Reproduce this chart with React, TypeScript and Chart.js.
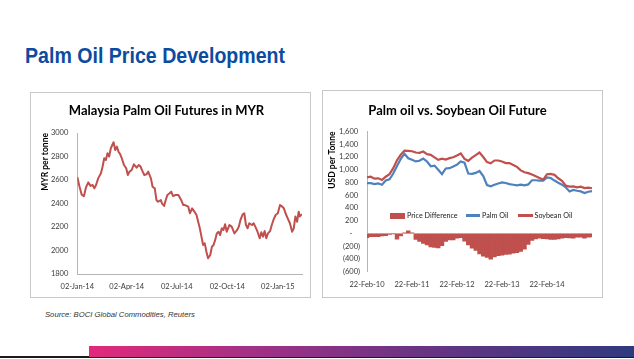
import React, { useEffect, useRef } from "react";
import { Chart, registerables } from "chart.js";

Chart.register(...registerables);

// ---------------- Left chart: Malaysia Palm Oil Futures in MYR ----------------
const myrDates: string[] = [
  "2014-01-02", "2014-01-06", "2014-01-10", "2014-01-14", "2014-01-18", "2014-01-22", "2014-01-26", "2014-01-30",
  "2014-02-02", "2014-02-05", "2014-02-09", "2014-02-14", "2014-02-17", "2014-02-20", "2014-02-23", "2014-02-26",
  "2014-03-01", "2014-03-04", "2014-03-09", "2014-03-12", "2014-03-15", "2014-03-18", "2014-03-21", "2014-03-24",
  "2014-03-28", "2014-04-01", "2014-04-04", "2014-04-07", "2014-04-11", "2014-04-15", "2014-04-20", "2014-04-24",
  "2014-04-27", "2014-05-01", "2014-05-04", "2014-05-08", "2014-05-11", "2014-05-16", "2014-05-19", "2014-05-23",
  "2014-05-26", "2014-05-29", "2014-06-03", "2014-06-05", "2014-06-09", "2014-06-12", "2014-06-15", "2014-06-19",
  "2014-06-22", "2014-06-25", "2014-06-30", "2014-07-05", "2014-07-10", "2014-07-14", "2014-07-17", "2014-07-23",
  "2014-07-26", "2014-07-30", "2014-08-04", "2014-08-07", "2014-08-10", "2014-08-13", "2014-08-16", "2014-08-19",
  "2014-08-22", "2014-08-25", "2014-08-28", "2014-09-01", "2014-09-04", "2014-09-07", "2014-09-10", "2014-09-13",
  "2014-09-16", "2014-09-19", "2014-09-22", "2014-09-25", "2014-09-28", "2014-10-01", "2014-10-06", "2014-10-10",
  "2014-10-15", "2014-10-20", "2014-10-23", "2014-10-26", "2014-10-30", "2014-11-02", "2014-11-05", "2014-11-08",
  "2014-11-11", "2014-11-16", "2014-11-19", "2014-11-22", "2014-11-26", "2014-11-30", "2014-12-03", "2014-12-06",
  "2014-12-09", "2014-12-12", "2014-12-15", "2014-12-19", "2014-12-22", "2014-12-25", "2014-12-29", "2015-01-02",
  "2015-01-06", "2015-01-10", "2015-01-13", "2015-01-16", "2015-01-20", "2015-01-24", "2015-01-28", "2015-01-31",
  "2015-02-03", "2015-02-06", "2015-02-09", "2015-02-11", "2015-02-15",
];
const myrPrices: number[] = [
  2625, 2545, 2475, 2462, 2540, 2580, 2550, 2557,
  2529, 2555, 2614, 2657, 2713, 2785, 2770, 2827,
  2800, 2870, 2921, 2855, 2884, 2841, 2820, 2785,
  2728, 2700, 2643, 2671, 2685, 2734, 2705, 2728,
  2715, 2671, 2643, 2648, 2671, 2614, 2543, 2529,
  2430, 2415, 2430, 2402, 2379, 2430, 2472, 2487,
  2501, 2464, 2472, 2472, 2430, 2387, 2387, 2373,
  2317, 2359, 2325, 2302, 2245, 2189, 2118, 2047,
  2061, 1990, 1934, 1962, 2032, 2047, 2090, 2146,
  2160, 2132, 2189, 2175, 2223, 2160, 2217, 2203,
  2146, 2175, 2203, 2260, 2308, 2317, 2217, 2189,
  2232, 2217, 2232, 2203, 2160, 2104, 2155, 2118,
  2166, 2104, 2146, 2166, 2217, 2260, 2302, 2317,
  2387, 2373, 2359, 2317, 2274, 2232, 2160, 2189,
  2290, 2245, 2330, 2290, 2310,
];
const myrTickDates: string[] = ["2014-01-02", "2014-04-02", "2014-07-02", "2014-10-02", "2015-01-02"];
const myrTickLabels: string[] = ["02-Jan-14", "02-Apr-14", "02-Jul-14", "02-Oct-14", "02-Jan-15"];

// ---------------- Right chart: Palm oil vs. Soybean Oil Future ----------------
const oilDates: string[] = [
  "22-Feb-10", "22-Mar-10", "22-Apr-10", "22-May-10", "22-Jun-10", "22-Jul-10", "22-Aug-10", "22-Sep-10", "22-Oct-10", "22-Nov-10", "22-Dec-10",
  "22-Jan-11", "22-Feb-11", "22-Mar-11", "22-Apr-11", "22-May-11", "22-Jun-11", "22-Jul-11", "22-Aug-11", "22-Sep-11", "22-Oct-11", "22-Nov-11", "22-Dec-11",
  "22-Jan-12", "22-Feb-12", "22-Mar-12", "22-Apr-12", "22-May-12", "22-Jun-12", "22-Jul-12", "22-Aug-12", "22-Sep-12", "22-Oct-12", "22-Nov-12", "22-Dec-12",
  "22-Jan-13", "22-Feb-13", "22-Mar-13", "22-Apr-13", "22-May-13", "22-Jun-13", "22-Jul-13", "22-Aug-13", "22-Sep-13", "22-Oct-13", "22-Nov-13", "22-Dec-13",
  "22-Jan-14", "22-Feb-14", "22-Mar-14", "22-Apr-14", "22-May-14", "22-Jun-14", "22-Jul-14", "22-Aug-14", "22-Sep-14", "22-Oct-14", "22-Nov-14", "22-Dec-14",
  "22-Jan-15", "22-Feb-15",
];
const palmOilUsd: number[] = [
  790, 789, 775, 785, 765, 830, 850, 940, 1060, 1170,
  1250, 1180, 1155, 1130, 1140, 1175, 1130, 1055, 1065, 1000,
  930, 1020, 1025, 1050, 1080, 1130, 1110, 940, 935, 950,
  980, 900, 760, 740, 765, 785, 800, 792, 775, 765,
  755, 765, 755, 770, 835, 835, 830, 830, 880, 870,
  830, 795, 765, 725, 660, 684, 670, 660, 635, 655, 665,
];
const soybeanOilUsd: number[] = [
  880, 890, 860, 865, 840, 890, 930, 1025, 1150, 1235,
  1300, 1297, 1290, 1270, 1265, 1285, 1245, 1234, 1195, 1155,
  1175, 1160, 1182, 1195, 1225, 1255, 1170, 1140, 1190, 1230,
  1270, 1200, 1120, 1100, 1145, 1145, 1130, 1105, 1104, 1075,
  1045, 990, 960, 946, 925, 898, 870, 845, 930, 935,
  920, 866, 825, 750, 736, 738, 725, 735, 712, 720, 710,
];
const priceDifferenceUsd: number[] = [
  -66, -50, -50, -50, -40, -35, -15, -5, -90, -40,
  10, 40, 10, -95, -125, -155, -180, -210, -220, -225,
  -190, -125, -100, -100, -75, -66, -120, -180, -230, -265,
  -320, -355, -375, -405, -370, -350, -340, -330, -325, -311,
  -300, -280, -245, -170, -110, -85, -75, -80, -87, -95,
  -95, -87, -75, -66, -70, -75, -58, -60, -75, -60, -55,
];
const oilTickLabels: string[] = ["22-Feb-10", "22-Feb-11", "22-Feb-12", "22-Feb-13", "22-Feb-14"];

// ---------------- Styles ----------------
const RED = "#c0504d";
const BLUE = "#4f81bd";
const AXIS = "#b5b5b5";
const TICK = "#3a3a3a";
const FONT = "Lato, 'Open Sans', sans-serif";

const dayNumber = (iso: string) => {
  const [y, m, d] = iso.split("-").map(Number);
  return Date.UTC(y, m - 1, d) / 86400000;
};

function MyrChart() {
  const ref = useRef<HTMLCanvasElement>(null);
  useEffect(() => {
    const origin = dayNumber(myrTickDates[0]);
    const chart = new Chart(ref.current as HTMLCanvasElement, {
      type: "line",
      data: {
        datasets: [
          {
            label: "MYR per tonne",
            data: myrDates.map((d, i) => ({ x: dayNumber(d) - origin, y: myrPrices[i] })),
            borderColor: RED,
            backgroundColor: RED,
            borderWidth: 2,
            pointRadius: 0,
            tension: 0,
            borderJoinStyle: "round",
          },
        ],
      },
      options: {
        animation: false,
        responsive: false,
        maintainAspectRatio: false,
        layout: { padding: { left: 0, right: 8, top: 0, bottom: 0 } },
        plugins: {
          legend: { display: false },
          tooltip: { enabled: false },
          title: {
            display: true,
            text: "Malaysia Palm Oil Futures in MYR",
            color: "#000",
            font: { family: FONT, size: 13, weight: "bold", lineHeight: 1.2 },
            padding: { top: 9.6, bottom: 14.8 },
          },
        },
        scales: {
          x: {
            type: "linear",
            min: 0,
            max: dayNumber(myrDates[myrDates.length - 1]) - origin,
            grid: { display: false, drawTicks: false },
            border: { display: true, color: AXIS, width: 1 },
            afterBuildTicks: (s: any) => {
              s.ticks = myrTickDates.map((d) => ({ value: dayNumber(d) - origin }));
            },
            afterFit: (s: any) => {
              s.height = 23;
            },
            ticks: {
              autoSkip: false,
              maxRotation: 0,
              minRotation: 0,
              padding: 8.2,
              color: TICK,
              font: { family: FONT, size: 7.5, lineHeight: 1.2 },
              callback: (_v: any, i: number) => myrTickLabels[i],
            },
          },
          y: {
            min: 1800,
            max: 3000,
            grid: { display: false, drawTicks: false },
            border: { display: true, color: AXIS, width: 1 },
            afterFit: (s: any) => {
              s.width = 46.3;
            },
            ticks: {
              stepSize: 200,
              padding: 9,
              color: TICK,
              font: { family: FONT, size: 7.5 },
              callback: (v: any) => String(v),
            },
            title: {
              display: true,
              text: "MYR per tonne",
              align: "end",
              color: "#000",
              font: { family: FONT, size: 8.5, weight: "bold", lineHeight: 1.2 },
              padding: { top: 8.9, bottom: 0 },
            },
          },
        },
      },
    } as any);
    return () => chart.destroy();
  }, []);
  return (
    <canvas
      ref={ref}
      width={279}
      height={204}
      style={{ position: "absolute", left: 31, top: 93, width: 279, height: 204 }}
    />
  );
}

function OilChart() {
  const ref = useRef<HTMLCanvasElement>(null);
  useEffect(() => {
    const chart = new Chart(ref.current as HTMLCanvasElement, {
      type: "bar",
      data: {
        labels: oilDates,
        datasets: [
          {
            type: "line",
            label: "Soybean Oil",
            data: soybeanOilUsd,
            borderColor: RED,
            backgroundColor: RED,
            borderWidth: 2.2,
            pointRadius: 0,
            tension: 0,
            order: 1,
          },
          {
            type: "line",
            label: "Palm Oil",
            data: palmOilUsd,
            borderColor: BLUE,
            backgroundColor: BLUE,
            borderWidth: 2.2,
            pointRadius: 0,
            tension: 0,
            order: 2,
          },
          {
            type: "bar",
            label: "Price Difference",
            data: priceDifferenceUsd,
            backgroundColor: RED,
            borderWidth: 0,
            barPercentage: 1,
            categoryPercentage: 1,
            order: 3,
          },
        ],
      },
      options: {
        animation: false,
        responsive: false,
        maintainAspectRatio: false,
        layout: { padding: { left: 0, right: 10, top: 0, bottom: 0 } },
        plugins: {
          legend: { display: false },
          tooltip: { enabled: false },
          title: {
            display: true,
            text: "Palm oil vs. Soybean Oil Future",
            color: "#000",
            font: { family: FONT, size: 13, weight: "bold", lineHeight: 1.2 },
            padding: { top: 11.6, bottom: 13.3 },
          },
        },
        scales: {
          x: {
            type: "category",
            offset: false,
            grid: { display: false, drawTicks: false, offset: false },
            border: { display: false },
            afterFit: (s: any) => {
              s.height = 25.3;
            },
            ticks: {
              autoSkip: false,
              maxRotation: 0,
              minRotation: 0,
              padding: 8.8,
              color: TICK,
              font: { family: FONT, size: 7.5, lineHeight: 1.2 },
              callback: (_v: any, i: number) => (oilTickLabels.includes(oilDates[i]) ? oilDates[i] : ""),
            },
          },
          y: {
            min: -600,
            max: 1600,
            z: 1,
            grid: {
              display: true,
              drawTicks: false,
              color: (ctx: any) => (ctx.tick && ctx.tick.value === 0 ? "#c4c4c4" : "rgba(0,0,0,0)"),
              lineWidth: 1,
            },
            border: { display: true, color: AXIS, width: 1 },
            afterFit: (s: any) => {
              s.width = 44;
            },
            ticks: {
              stepSize: 200,
              padding: 7,
              color: TICK,
              font: { family: FONT, size: 7.5 },
              callback: (v: any) => {
                const n = Number(v);
                if (n === 0) return "-    ";
                const s = Math.abs(n).toLocaleString("en-US");
                return n < 0 ? `(${s})` : `${s} `;
              },
            },
            title: {
              display: true,
              text: "USD per Tonne",
              align: "end",
              color: "#000",
              font: { family: FONT, size: 8.5, weight: "bold", lineHeight: 1.2 },
              padding: { top: 4.4, bottom: 0 },
            },
          },
        },
      },
    } as any);
    return () => chart.destroy();
  }, []);
  return (
    <canvas
      ref={ref}
      width={279}
      height={206}
      style={{ position: "absolute", left: 323, top: 91, width: 279, height: 206 }}
    />
  );
}

const legendText: React.CSSProperties = {
  fontFamily: FONT,
  fontSize: 7.2,
  color: "#222",
  whiteSpace: "nowrap",
  lineHeight: "11px",
};

export default function App() {
  return (
    <div
      style={{
        position: "absolute",
        left: 0,
        top: 0,
        width: 634,
        height: 359,
        background: "#fff",
        overflow: "hidden",
      }}
    >
      <div
        style={{
          position: "absolute",
          left: 25,
          top: 45,
          fontFamily: "'Liberation Sans', Arial, sans-serif",
          fontWeight: "bold",
          fontSize: 22,
          lineHeight: "22px",
          color: "#0c4ca0",
          whiteSpace: "nowrap",
          transform: "scaleX(0.89)",
          transformOrigin: "left top",
        }}
      >
        Palm Oil Price Development
      </div>

      <div
        style={{
          position: "absolute",
          left: 30,
          top: 92,
          width: 281,
          height: 206,
          border: "1px solid #c8c8c8",
          boxSizing: "border-box",
        }}
      />
      <MyrChart />

      <div
        style={{
          position: "absolute",
          left: 322,
          top: 90,
          width: 281,
          height: 208,
          border: "1px solid #c8c8c8",
          boxSizing: "border-box",
        }}
      />
      <OilChart />

      {/* legend of the right chart */}
      <div style={{ position: "absolute", left: 390, top: 210, height: 11, display: "flex", alignItems: "center" }}>
        <span style={{ display: "inline-block", width: 15, height: 6, background: RED }} />
        <span style={{ ...legendText, marginLeft: 2 }}>Price Difference</span>
      </div>
      <div style={{ position: "absolute", left: 466, top: 210, height: 11, display: "flex", alignItems: "center" }}>
        <span style={{ display: "inline-block", width: 14, height: 2.5, background: BLUE }} />
        <span style={{ ...legendText, marginLeft: 2 }}>Palm Oil</span>
      </div>
      <div style={{ position: "absolute", left: 518, top: 210, height: 11, display: "flex", alignItems: "center" }}>
        <span style={{ display: "inline-block", width: 15, height: 2.5, background: RED }} />
        <span style={{ ...legendText, marginLeft: 1.5 }}>Soybean Oil</span>
      </div>

      <div
        style={{
          position: "absolute",
          left: 45,
          top: 310.5,
          fontFamily: "'Liberation Sans', Arial, sans-serif",
          fontStyle: "italic",
          fontSize: 8,
          lineHeight: "8px",
          color: "#333",
          whiteSpace: "nowrap",
          transform: "scaleX(0.96)",
          transformOrigin: "left top",
        }}
      >
        Source: BOCI Global Commodities, Reuters
      </div>

      <div style={{ position: "absolute", left: 0, top: 356, width: 634, height: 2, background: "#1a1a1a" }} />
      <div
        style={{
          position: "absolute",
          left: 89,
          top: 346,
          width: 545,
          height: 10.5,
          background: "linear-gradient(to right, #e2297a 0%, #a23186 30%, #6a3483 60%, #2f3a7f 100%)",
        }}
      />
    </div>
  );
}
